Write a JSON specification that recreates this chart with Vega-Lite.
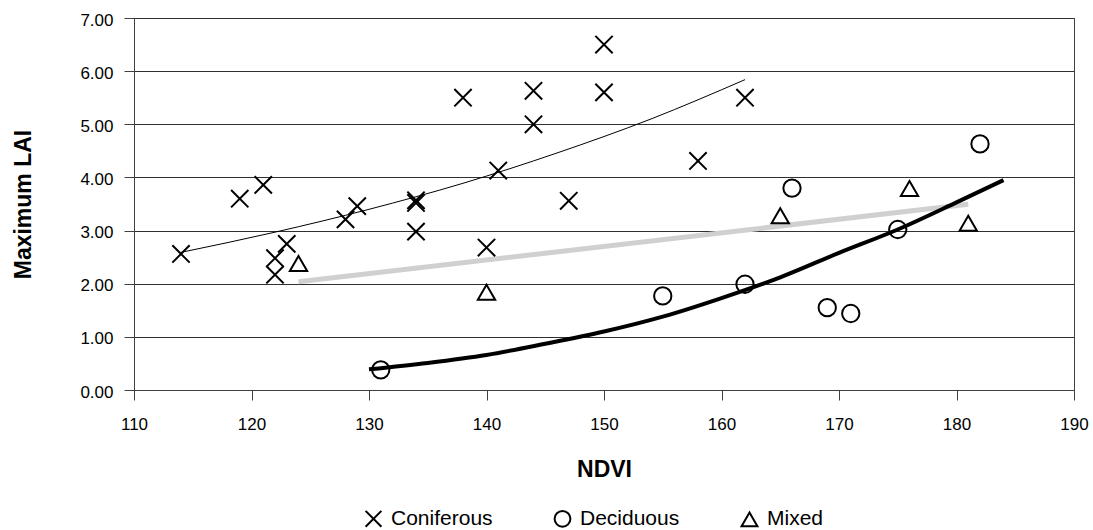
{
  "$schema": "https://vega.github.io/schema/vega-lite/v6.json",
  "width": 940,
  "height": 372,
  "autosize": {"type": "none"},
  "padding": {"left": 134, "top": 18, "right": 19, "bottom": 140},
  "background": "white",
  "config": {
    "font": "Liberation Sans",
    "view": {"stroke": "#404040", "strokeWidth": 1},
    "axis": {
      "labelFont": "Liberation Sans",
      "titleFont": "Liberation Sans",
      "labelColor": "black",
      "titleColor": "black",
      "domainColor": "#404040",
      "tickColor": "#404040",
      "gridColor": "#303030",
      "gridOpacity": 1,
      "labelFontSize": 17,
      "titleFontSize": 23,
      "titleFontWeight": "bold",
      "tickSize": 10
    }
  },
  "datasets": {
    "pts": [
      {"type": "Coniferous", "ndvi": 114, "lai": 2.56},
      {"type": "Coniferous", "ndvi": 119, "lai": 3.6},
      {"type": "Coniferous", "ndvi": 121, "lai": 3.86},
      {"type": "Coniferous", "ndvi": 122, "lai": 2.48},
      {"type": "Coniferous", "ndvi": 122, "lai": 2.17},
      {"type": "Coniferous", "ndvi": 123, "lai": 2.75},
      {"type": "Coniferous", "ndvi": 128, "lai": 3.21},
      {"type": "Coniferous", "ndvi": 129, "lai": 3.46},
      {"type": "Coniferous", "ndvi": 134, "lai": 3.57},
      {"type": "Coniferous", "ndvi": 134, "lai": 3.52},
      {"type": "Coniferous", "ndvi": 134, "lai": 2.98},
      {"type": "Coniferous", "ndvi": 138, "lai": 5.5},
      {"type": "Coniferous", "ndvi": 140, "lai": 2.68},
      {"type": "Coniferous", "ndvi": 141, "lai": 4.13},
      {"type": "Coniferous", "ndvi": 144, "lai": 5.63},
      {"type": "Coniferous", "ndvi": 144, "lai": 5.0},
      {"type": "Coniferous", "ndvi": 147, "lai": 3.56},
      {"type": "Coniferous", "ndvi": 150, "lai": 6.5},
      {"type": "Coniferous", "ndvi": 150, "lai": 5.6},
      {"type": "Coniferous", "ndvi": 158, "lai": 4.31},
      {"type": "Coniferous", "ndvi": 162, "lai": 5.5},
      {"type": "Deciduous", "ndvi": 131, "lai": 0.38},
      {"type": "Deciduous", "ndvi": 155, "lai": 1.77},
      {"type": "Deciduous", "ndvi": 162, "lai": 1.99},
      {"type": "Deciduous", "ndvi": 166, "lai": 3.8},
      {"type": "Deciduous", "ndvi": 169, "lai": 1.55},
      {"type": "Deciduous", "ndvi": 171, "lai": 1.44},
      {"type": "Deciduous", "ndvi": 175, "lai": 3.02},
      {"type": "Deciduous", "ndvi": 182, "lai": 4.63},
      {"type": "Mixed", "ndvi": 124, "lai": 2.38},
      {"type": "Mixed", "ndvi": 140, "lai": 1.84},
      {"type": "Mixed", "ndvi": 165, "lai": 3.28},
      {"type": "Mixed", "ndvi": 176, "lai": 3.79},
      {"type": "Mixed", "ndvi": 181, "lai": 3.14}
    ],
    "trend": [
      {"series": "Coniferous", "ndvi": 114, "lai": 2.59},
      {"series": "Coniferous", "ndvi": 122, "lai": 2.97},
      {"series": "Coniferous", "ndvi": 130, "lai": 3.40},
      {"series": "Coniferous", "ndvi": 138, "lai": 3.89},
      {"series": "Coniferous", "ndvi": 146, "lai": 4.46},
      {"series": "Coniferous", "ndvi": 154, "lai": 5.10},
      {"series": "Coniferous", "ndvi": 162, "lai": 5.84},
      {"series": "Deciduous", "ndvi": 130, "lai": 0.39},
      {"series": "Deciduous", "ndvi": 135, "lai": 0.51},
      {"series": "Deciduous", "ndvi": 140, "lai": 0.66},
      {"series": "Deciduous", "ndvi": 145, "lai": 0.87},
      {"series": "Deciduous", "ndvi": 150, "lai": 1.10},
      {"series": "Deciduous", "ndvi": 155, "lai": 1.38},
      {"series": "Deciduous", "ndvi": 160, "lai": 1.73},
      {"series": "Deciduous", "ndvi": 165, "lai": 2.12},
      {"series": "Deciduous", "ndvi": 170, "lai": 2.58},
      {"series": "Deciduous", "ndvi": 175, "lai": 3.02},
      {"series": "Deciduous", "ndvi": 180, "lai": 3.53},
      {"series": "Deciduous", "ndvi": 184, "lai": 3.95}
    ]
  },
  "encoding": {
    "x": {
      "field": "ndvi",
      "type": "quantitative",
      "scale": {"domain": [110, 190], "nice": false, "zero": false},
      "axis": {
        "title": "NDVI",
        "grid": false,
        "values": [110, 120, 130, 140, 150, 160, 170, 180, 190],
        "labelPadding": 16,
        "titlePadding": 26,
        "labelFlush": false,
        "labelOverlap": false
      }
    },
    "y": {
      "field": "lai",
      "type": "quantitative",
      "scale": {"domain": [0, 7], "nice": false},
      "axis": {
        "title": "Maximum LAI",
        "grid": true,
        "values": [0, 1, 2, 3, 4, 5, 6, 7],
        "format": ".2f",
        "labelPadding": 11,
        "labelOffset": 2,
        "titlePadding": 44,
        "labelOverlap": false
      }
    }
  },
  "layer": [
    {
      "data": {"name": "pts"},
      "transform": [
        {"filter": {"field": "type", "equal": "Mixed"}},
        {"regression": "lai", "on": "ndvi", "method": "linear"}
      ],
      "mark": {"type": "line", "color": "#d0d0d0", "strokeWidth": 5},
      "encoding": {}
    },
    {
      "data": {"name": "trend"},
      "transform": [{"filter": {"field": "series", "equal": "Deciduous"}}],
      "mark": {"type": "line", "color": "black", "strokeWidth": 4, "interpolate": "monotone"},
      "encoding": {}
    },
    {
      "data": {"name": "trend"},
      "transform": [{"filter": {"field": "series", "equal": "Coniferous"}}],
      "mark": {"type": "line", "color": "black", "strokeWidth": 1, "interpolate": "monotone"},
      "encoding": {}
    },
    {
      "data": {"name": "pts"},
      "mark": {"type": "point", "filled": false, "strokeWidth": 2, "size": 300, "opacity": 1, "color": "black"},
      "encoding": {
        "shape": {
          "field": "type",
          "type": "nominal",
          "scale": {
            "domain": ["Coniferous", "Deciduous", "Mixed"],
            "range": ["M-1,-1L1,1M-1,1L1,-1", "circle", "triangle-up"]
          },
          "legend": {
            "title": null,
            "orient": "none",
            "legendX": 229,
            "legendY": 490,
            "direction": "horizontal",
            "labelFont": "Liberation Sans",
            "labelFontSize": 21,
            "labelColor": "black",
            "symbolSize": 250,
            "symbolStrokeWidth": 2,
            "symbolStrokeColor": "black",
            "symbolFillColor": "transparent",
            "columnPadding": 57,
            "labelOffset": 7,
            "padding": 0
          }
        }
      }
    }
  ]
}
